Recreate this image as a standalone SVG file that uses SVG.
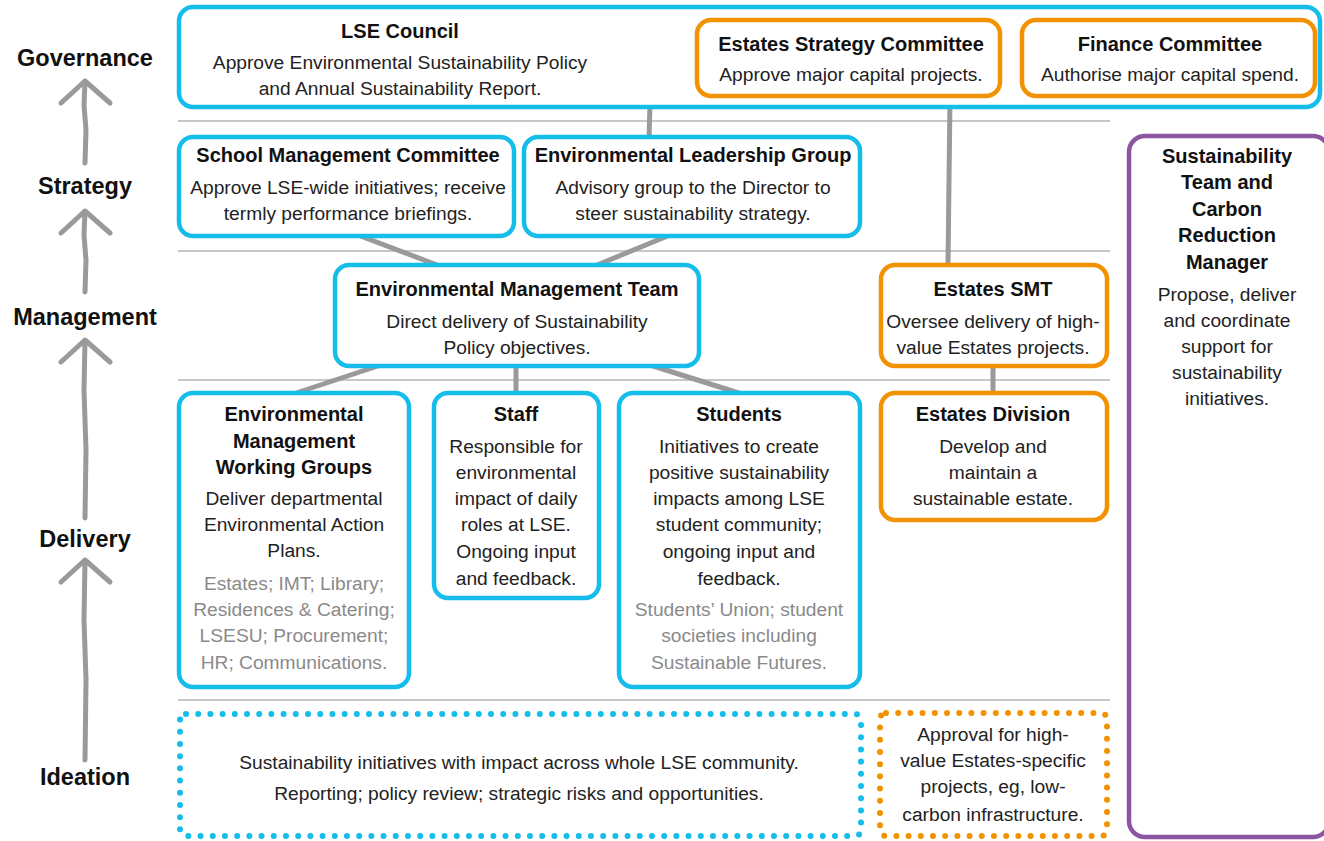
<svg xmlns="http://www.w3.org/2000/svg" width="1324" height="841" viewBox="0 0 1324 841">
  <style>
    text { font-family: "Liberation Sans", Arial, sans-serif; text-anchor: middle; }
    .t { font-size: 20px; font-weight: bold; fill: #111; }
    .b { font-size: 19.2px; fill: #222; }
    .g { font-size: 19.2px; fill: #8a8a8a; }
    .lvl { font-size: 23.5px; font-weight: bold; fill: #111; }
    .cy { fill: #fff; stroke: #14bdea; stroke-width: 4.5; }
    .or { fill: #fff; stroke: #f39200; stroke-width: 4.5; }
    .pu { fill: #fff; stroke: #8b55a2; stroke-width: 4.5; }
    .rule { stroke: #b4b4b4; stroke-width: 1.5; }
    .con { stroke: #9a9a9c; stroke-width: 5; stroke-linecap: round; fill: none; }
    .arr { stroke: #9a9a9c; stroke-width: 5; stroke-linecap: round; stroke-linejoin: round; fill: none; }
    .dotc { fill: none; stroke: #14bdea; stroke-width: 6; stroke-dasharray: 0 12.2; stroke-linecap: round; }
    .doto { fill: none; stroke: #f39200; stroke-width: 6; stroke-dasharray: 0 12.2; stroke-linecap: round; }
  </style>

  <!-- tier separators -->
  <g id="rules">
    <line class="rule" x1="178" y1="121" x2="1110" y2="121"/>
    <line class="rule" x1="178" y1="251" x2="1110" y2="251"/>
    <line class="rule" x1="178" y1="380" x2="1110" y2="380"/>
    <line class="rule" x1="178" y1="700" x2="1110" y2="700"/>
  </g>

  <!-- tier labels and upward arrows -->
  <g id="levels">
    <text class="lvl" x="85" y="66">Governance</text>
    <text class="lvl" x="85" y="194">Strategy</text>
    <text class="lvl" x="85" y="325">Management</text>
    <text class="lvl" x="85" y="547">Delivery</text>
    <text class="lvl" x="85" y="785">Ideation</text>
    <path class="arr" d="M85 163 L86 130 L84 105 L85 81 M61 103 L85 81 L110 103"/>
    <path class="arr" d="M85 292 L86 260 L84 235 L85 211 M61 233 L85 211 L110 233"/>
    <path class="arr" d="M85 518 L86 450 L84 390 L85 340 M61 362 L85 340 L110 362"/>
    <path class="arr" d="M85 760 L86 680 L84 620 L85 560 M61 582 L85 560 L110 582"/>
  </g>

  <!-- connectors -->
  <g id="connectors">
    <line class="con" x1="650" y1="103" x2="649" y2="140"/>
    <line class="con" x1="1000" y1="58" x2="1022" y2="58"/>
    <line class="con" x1="950" y1="97" x2="948" y2="266"/>
    <line class="con" x1="350" y1="232" x2="445" y2="268"/>
    <line class="con" x1="670" y1="235" x2="585" y2="270"/>
    <line class="con" x1="402" y1="358" x2="290" y2="395"/>
    <line class="con" x1="516" y1="363" x2="516" y2="396"/>
    <line class="con" x1="650" y1="365" x2="745" y2="395"/>
    <line class="con" x1="993" y1="363" x2="993" y2="396"/>
  </g>

  <!-- governance -->
  <g id="lse-council">
    <rect class="cy" x="179" y="7" width="1141" height="100" rx="14"/>
    <text class="t" x="400" y="38">LSE Council</text>
    <text class="b" x="400" y="69">Approve Environmental Sustainability Policy</text>
    <text class="b" x="400" y="95">and Annual Sustainability Report.</text>
  </g>
  <g id="estates-strategy-committee">
    <rect class="or" x="697" y="20" width="303" height="76" rx="14"/>
    <text class="t" x="851" y="51">Estates Strategy Committee</text>
    <text class="b" x="851" y="81">Approve major capital projects.</text>
  </g>
  <g id="finance-committee">
    <rect class="or" x="1022" y="20" width="293" height="76" rx="14"/>
    <text class="t" x="1170" y="51">Finance Committee</text>
    <text class="b" x="1170" y="81">Authorise major capital spend.</text>
  </g>

  <!-- strategy -->
  <g id="school-management-committee">
    <rect class="cy" x="179" y="137" width="335" height="99" rx="14"/>
    <text class="t" x="348" y="162">School Management Committee</text>
    <text class="b" x="348" y="194">Approve LSE-wide initiatives; receive</text>
    <text class="b" x="348" y="220">termly performance briefings.</text>
  </g>
  <g id="environmental-leadership-group">
    <rect class="cy" x="524" y="137" width="336" height="99" rx="14"/>
    <text class="t" x="693" y="162">Environmental Leadership Group</text>
    <text class="b" x="693" y="194">Advisory group to the Director to</text>
    <text class="b" x="693" y="220">steer sustainability strategy.</text>
  </g>

  <!-- management -->
  <g id="environmental-management-team">
    <rect class="cy" x="335" y="265" width="364" height="101" rx="14"/>
    <text class="t" x="517" y="296">Environmental Management Team</text>
    <text class="b" x="517" y="328">Direct delivery of Sustainability</text>
    <text class="b" x="517" y="354">Policy objectives.</text>
  </g>
  <g id="estates-smt">
    <rect class="or" x="881" y="265" width="226" height="101" rx="14"/>
    <text class="t" x="993" y="296">Estates SMT</text>
    <text class="b" x="993" y="328">Oversee delivery of high-</text>
    <text class="b" x="993" y="354">value Estates projects.</text>
  </g>

  <!-- delivery -->
  <g id="working-groups">
    <rect class="cy" x="179" y="393" width="230" height="294" rx="14"/>
    <text class="t" x="294" y="421">Environmental</text>
    <text class="t" x="294" y="448">Management</text>
    <text class="t" x="294" y="474">Working Groups</text>
    <text class="b" x="294" y="505">Deliver departmental</text>
    <text class="b" x="294" y="531">Environmental Action</text>
    <text class="b" x="294" y="557">Plans.</text>
    <text class="g" x="294" y="590">Estates; IMT; Library;</text>
    <text class="g" x="294" y="616">Residences &amp; Catering;</text>
    <text class="g" x="294" y="642">LSESU; Procurement;</text>
    <text class="g" x="294" y="669">HR; Communications.</text>
  </g>
  <g id="staff">
    <rect class="cy" x="434" y="393" width="165" height="205" rx="14"/>
    <text class="t" x="516" y="421">Staff</text>
    <text class="b" x="516" y="453">Responsible for</text>
    <text class="b" x="516" y="479">environmental</text>
    <text class="b" x="516" y="505">impact of daily</text>
    <text class="b" x="516" y="531">roles at LSE.</text>
    <text class="b" x="516" y="558">Ongoing input</text>
    <text class="b" x="516" y="585">and feedback.</text>
  </g>
  <g id="students">
    <rect class="cy" x="619" y="393" width="241" height="294" rx="14"/>
    <text class="t" x="739" y="421">Students</text>
    <text class="b" x="739" y="453">Initiatives to create</text>
    <text class="b" x="739" y="479">positive sustainability</text>
    <text class="b" x="739" y="505">impacts among LSE</text>
    <text class="b" x="739" y="531">student community;</text>
    <text class="b" x="739" y="558">ongoing input and</text>
    <text class="b" x="739" y="585">feedback.</text>
    <text class="g" x="739" y="616">Students’ Union; student</text>
    <text class="g" x="739" y="642">societies including</text>
    <text class="g" x="739" y="669">Sustainable Futures.</text>
  </g>
  <g id="estates-division">
    <rect class="or" x="881" y="393" width="226" height="127" rx="14"/>
    <text class="t" x="993" y="421">Estates Division</text>
    <text class="b" x="993" y="453">Develop and</text>
    <text class="b" x="993" y="479">maintain a</text>
    <text class="b" x="993" y="505">sustainable estate.</text>
  </g>

  <!-- sustainability team spans all tiers -->
  <g id="sustainability-team">
    <rect class="pu" x="1129" y="136" width="200" height="701" rx="16"/>
    <text class="t" x="1227" y="163">Sustainability</text>
    <text class="t" x="1227" y="189">Team and</text>
    <text class="t" x="1227" y="216">Carbon</text>
    <text class="t" x="1227" y="242">Reduction</text>
    <text class="t" x="1227" y="269">Manager</text>
    <text class="b" x="1227" y="301">Propose, deliver</text>
    <text class="b" x="1227" y="327">and coordinate</text>
    <text class="b" x="1227" y="353">support for</text>
    <text class="b" x="1227" y="379">sustainability</text>
    <text class="b" x="1227" y="405">initiatives.</text>
  </g>

  <!-- ideation -->
  <g id="ideation-lse">
    <rect class="dotc" x="180" y="714" width="681" height="122" rx="6"/>
    <text class="b" x="519" y="769">Sustainability initiatives with impact across whole LSE community.</text>
    <text class="b" x="519" y="800">Reporting; policy review; strategic risks and opportunities.</text>
  </g>
  <g id="ideation-estates">
    <rect class="doto" x="880" y="713" width="227" height="123" rx="6"/>
    <text class="b" x="993" y="741">Approval for high-</text>
    <text class="b" x="993" y="767">value Estates-specific</text>
    <text class="b" x="993" y="793">projects, eg, low-</text>
    <text class="b" x="993" y="821">carbon infrastructure.</text>
  </g>
</svg>
